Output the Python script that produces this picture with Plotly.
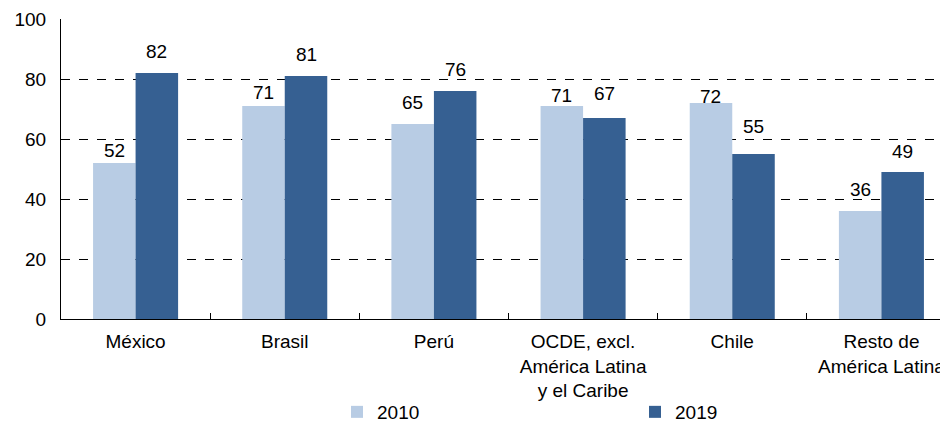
import plotly.graph_objects as go

categories = ["México", "Brasil", "Perú", "OCDE, excl.<br>América Latina<br>y el Caribe",
              "Chile", "Resto de<br>América Latina"]
values_2010 = [52, 71, 65, 71, 72, 36]
values_2019 = [82, 81, 76, 67, 55, 49]

# how far (px) each value label sits above its bar top, as placed in the original
label_lift_2010 = [13, 14, 22, 11, 7, 22]
label_lift_2019 = [22, 22, 22, 25, 28, 21]

FONT = "Liberation Sans, Arial, sans-serif"
FIG_W, FIG_H = 948, 416
M_L, M_R, M_T, M_B = 53, 0, 11, 105
BARGAP = 0.43

fig = go.Figure()
fig.add_trace(go.Bar(x=categories, y=values_2010, name="2010",
                     marker_color="#B8CCE4", marker_line_width=0))
fig.add_trace(go.Bar(x=categories, y=values_2019, name="2019",
                     marker_color="#366092", marker_line_width=0))

# value labels, nudged to the half of the group each bar occupies
cat_w = (FIG_W - M_L - M_R) / len(categories)
half = cat_w * (1 - BARGAP) / 4
for vals, lifts, dx in [(values_2010, label_lift_2010, -half),
                        (values_2019, label_lift_2019, half)]:
    for c, v, lift in zip(categories, vals, lifts):
        fig.add_annotation(x=c, y=v, text=str(v), showarrow=False,
                           xshift=dx, yshift=lift, yanchor="middle",
                           font=dict(size=19, color="black"))

# page body has an 8px margin, so the figure is shifted inside the window
fig.update_layout(
    width=FIG_W, height=FIG_H,
    margin=dict(l=M_L, r=M_R, t=M_T, b=M_B, autoexpand=False),
    barmode="group", bargap=BARGAP, bargroupgap=0,
    plot_bgcolor="white", paper_bgcolor="white",
    font=dict(family=FONT, size=19, color="black"),
    legend=dict(
        orientation="h", x=0.3084, y=-0.31, xanchor="left", yanchor="middle",
        entrywidth=253, entrywidthmode="pixels",
        font=dict(size=19), bgcolor="rgba(0,0,0,0)",
    ),
)

fig.update_yaxes(
    range=[0, 100], dtick=20, showgrid=True,
    gridcolor="black", griddash="dash", gridwidth=1,
    showline=True, linecolor="black", linewidth=1,
    zeroline=False, ticks="", ticklen=0, ticklabelstandoff=10,
    tickfont=dict(size=19), automargin=False,
)
fig.update_xaxes(
    showline=True, linecolor="black", linewidth=1,
    ticks="inside", tickson="boundaries", ticklen=6, tickcolor="black",
    ticklabelstandoff=5,
    tickfont=dict(size=19), tickangle=0, automargin=False,
)

fig.write_html("out.html")
